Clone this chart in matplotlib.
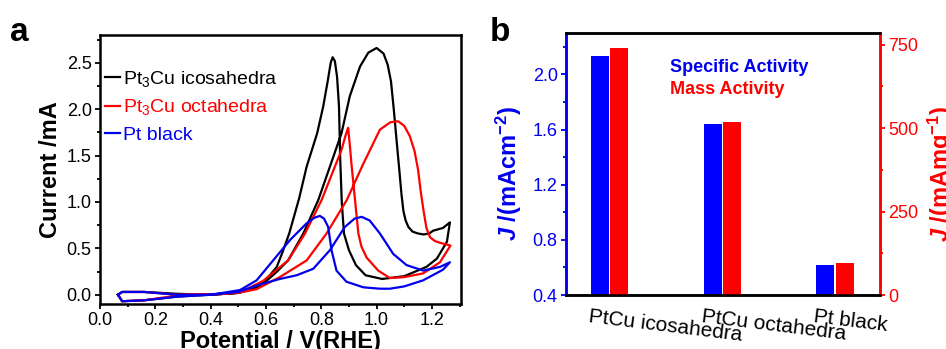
import matplotlib
matplotlib.use("Agg")
import matplotlib.pyplot as plt
import numpy as np
from matplotlib.ticker import MultipleLocator
from matplotlib.transforms import ScaledTranslation

plt.rcParams["font.family"] = ["Liberation Sans", "DejaVu Sans"]
plt.rcParams["mathtext.fontset"] = "custom"
plt.rcParams["mathtext.it"] = "Liberation Sans:italic:bold"
plt.rcParams["mathtext.rm"] = "Liberation Sans:bold"
plt.rcParams["mathtext.default"] = "regular"

# ---- panel a: cyclic voltammograms (forward + reverse scans)
ico_fwd_v = [0.065, 0.08, 0.16, 0.28, 0.40, 0.50, 0.56, 0.602, 0.64, 0.68, 0.735, 0.789, 0.831,
             0.873, 0.903, 0.94, 0.97, 1.0, 1.025, 1.04, 1.052, 1.062, 1.072, 1.082, 1.09, 1.097,
             1.105, 1.115, 1.13, 1.15, 1.17, 1.19, 1.204, 1.24, 1.265]
ico_fwd_i = [0.0, 0.03, 0.03, 0.01, 0.0, 0.02, 0.07, 0.15, 0.25, 0.37, 0.66, 1.02, 1.38,
             1.74, 2.14, 2.46, 2.61, 2.66, 2.60, 2.48, 2.30, 2.00, 1.67, 1.345, 1.08, 0.90,
             0.80, 0.73, 0.68, 0.66, 0.65, 0.66, 0.69, 0.72, 0.78]
ico_rev_v = [1.265, 1.254, 1.218, 1.18, 1.10, 1.02, 0.96, 0.925, 0.90, 0.882, 0.874, 0.868,
             0.864, 0.857, 0.849, 0.841, 0.834, 0.823, 0.807, 0.785, 0.747, 0.72, 0.684, 0.66,
             0.639, 0.60, 0.566, 0.50, 0.40, 0.28, 0.16, 0.08, 0.065]
ico_rev_i = [0.78, 0.57, 0.39, 0.30, 0.20, 0.17, 0.21, 0.32, 0.48, 0.66, 1.0, 1.5,
             2.03, 2.35, 2.52, 2.56, 2.50, 2.30, 2.03, 1.74, 1.38, 1.04, 0.66, 0.46,
             0.30, 0.16, 0.08, 0.02, 0.0, -0.02, -0.06, -0.07, 0.0]

oct_fwd_v = [0.065, 0.08, 0.16, 0.28, 0.40, 0.50, 0.566, 0.65, 0.747, 0.819, 0.892, 0.95,
             1.012, 1.05, 1.078, 1.10, 1.12, 1.137, 1.15, 1.16, 1.17, 1.18, 1.193, 1.21,
             1.229, 1.267]
oct_fwd_i = [0.0, 0.03, 0.03, 0.0, 0.0, 0.02, 0.06, 0.19, 0.37, 0.66, 1.02, 1.40,
             1.78, 1.86, 1.87, 1.82, 1.71, 1.55, 1.345, 1.10, 0.90, 0.72, 0.62, 0.58,
             0.56, 0.53]
oct_rev_v = [1.267, 1.229, 1.168, 1.10, 1.048, 1.006, 0.964, 0.945, 0.934, 0.922, 0.91, 0.902,
             0.897, 0.888, 0.873, 0.849, 0.801, 0.741, 0.68, 0.59, 0.53, 0.45, 0.30, 0.16,
             0.08, 0.065]
oct_rev_i = [0.53, 0.35, 0.23, 0.19, 0.18, 0.26, 0.40, 0.52, 0.66, 1.02, 1.38, 1.65,
             1.80, 1.72, 1.56, 1.38, 1.02, 0.66, 0.37, 0.15, 0.06, 0.01, 0.0, -0.06,
             -0.07, 0.0]

blk_fwd_v = [0.065, 0.08, 0.16, 0.28, 0.40, 0.50, 0.566, 0.65, 0.711, 0.771, 0.831, 0.885,
             0.92, 0.946, 0.975, 1.012, 1.06, 1.108, 1.168, 1.229, 1.265]
blk_fwd_i = [0.0, 0.03, 0.03, 0.0, 0.0, 0.03, 0.10, 0.17, 0.21, 0.28, 0.48, 0.73,
             0.82, 0.84, 0.80, 0.66, 0.44, 0.32, 0.26, 0.30, 0.35]
blk_rev_v = [1.265, 1.24, 1.168, 1.10, 1.048, 1.012, 0.952, 0.891, 0.855, 0.837, 0.825, 0.81,
             0.795, 0.775, 0.747, 0.687, 0.626, 0.566, 0.506, 0.40, 0.28, 0.16, 0.08, 0.065]
blk_rev_i = [0.35, 0.27, 0.155, 0.09, 0.065, 0.065, 0.08, 0.14, 0.26, 0.48, 0.73, 0.82,
             0.85, 0.83, 0.77, 0.59, 0.37, 0.155, 0.05, 0.0, -0.02, -0.06, -0.07, 0.0]

cv_labels = ["Pt$_3$Cu icosahedra", "Pt$_3$Cu octahedra", "Pt black"]
cv_colors = ["black", "#ff0000", "#0000ee"]

# ---- panel b: activities
catalysts = ["PtCu icosahedra", "PtCu octahedra", "Pt black"]
specific_activity = [2.13, 1.64, 0.62]   # mA cm^-2
mass_activity = [739, 517, 95]           # mA mg^-1

fig = plt.figure(figsize=(9.46, 3.49), dpi=100)

ax1 = fig.add_axes([0.1057, 0.1289, 0.3816, 0.7708])
curves = [(ico_fwd_v + ico_rev_v, ico_fwd_i + ico_rev_i),
          (oct_fwd_v + oct_rev_v, oct_fwd_i + oct_rev_i),
          (blk_fwd_v + blk_rev_v, blk_fwd_i + blk_rev_i)]
handles = []
for (v, i), lab, col in zip(curves, cv_labels, cv_colors):
    h, = ax1.plot(v, i, color=col, lw=1.6, label=lab, solid_joinstyle="round")
    handles.append(h)

ax1.set_xlim(0.0, 1.305)
ax1.set_ylim(-0.1, 2.8)
ax1.xaxis.set_major_locator(MultipleLocator(0.2))
ax1.xaxis.set_minor_locator(MultipleLocator(0.1))
ax1.yaxis.set_major_locator(MultipleLocator(0.5))
ax1.yaxis.set_minor_locator(MultipleLocator(0.25))
ax1.tick_params(which="both", direction="out", top=False, right=False, labelsize=13, width=1.3,
                pad=2.5)
ax1.tick_params(which="major", length=3.5)
ax1.tick_params(which="minor", length=2)
ax1.xaxis.set_major_formatter(plt.FuncFormatter(lambda x, p: f"{x:.1f}"))
ax1.yaxis.set_major_formatter(plt.FuncFormatter(lambda x, p: f"{x:.1f}"))
for s in ax1.spines.values():
    s.set_linewidth(1.8)
ax1.set_xlabel("Potential / V(RHE)", fontsize=17, fontweight="bold")
ax1.xaxis.set_label_coords(0.5, -0.095)
ax1.set_ylabel("Current /mA", fontsize=17, fontweight="bold")
ax1.yaxis.set_label_coords(-0.105, 0.5)
ax1.legend(handles=handles, loc="upper left", bbox_to_anchor=(0.015, 0.875), frameon=False,
           fontsize=14, handlelength=0.75, handletextpad=0.15, labelspacing=0.45,
           borderpad=0, borderaxespad=0, labelcolor="linecolor")

# ---- panel b
ax2 = fig.add_axes([0.5983, 0.1547, 0.3319, 0.7507])
ax3 = ax2.twinx()
x = np.arange(1, len(catalysts) + 1)
w = 0.16
ax2.bar(x - 0.085, specific_activity, width=w, color="#0000ff")
ax3.bar(x + 0.085, mass_activity, width=w, color="#ff0000")
ax2.set_xlim(0.61, 3.4)
ax2.set_ylim(0.4, 2.3)
ax3.set_ylim(0, 785)
ax2.yaxis.set_major_locator(MultipleLocator(0.4))
ax2.yaxis.set_minor_locator(MultipleLocator(0.2))
ax3.yaxis.set_major_locator(MultipleLocator(250))
ax3.yaxis.set_minor_locator(MultipleLocator(125))
ax2.yaxis.set_major_formatter(plt.FuncFormatter(lambda x, p: f"{x:.1f}"))
blue, red = "#0000ee", "#ff0000"
ax2.tick_params(axis="y", which="both", colors=blue, labelsize=13, width=1.3, direction="out",
                pad=2.5)
ax2.tick_params(axis="y", which="major", length=3.5)
ax2.tick_params(axis="y", which="minor", length=2)
ax3.tick_params(axis="y", which="both", colors=red, labelsize=13, width=1.3, direction="out",
                pad=2.5)
ax3.tick_params(axis="y", which="major", length=3.5)
ax3.tick_params(axis="y", which="minor", length=2)
ax2.set_xticks(x)
ax2.set_xticklabels(catalysts, rotation=-7, ha="left", rotation_mode="anchor", fontsize=15)
ax2.tick_params(axis="x", length=0, pad=9)
shift = ScaledTranslation(-0.2, 0, fig.dpi_scale_trans)
for lab in ax2.get_xticklabels():
    lab.set_transform(lab.get_transform() + shift)
for ax in (ax2, ax3):
    for s in ax.spines.values():
        s.set_linewidth(1.8)
    ax.spines["left"].set_color(blue)
    ax.spines["right"].set_color(red)
ax2.set_ylabel(r"$\mathit{J}$ /(mAcm$^{-2}$)", color=blue, fontsize=17, fontweight="bold")
ax2.yaxis.set_label_coords(-0.134, 0.462)
ax3.set_ylabel(r"$\mathit{J}$ /(mAmg$^{-1}$)", color=red, fontsize=17, fontweight="bold",
               rotation=90)
ax3.yaxis.set_label_coords(1.146, 0.462)
ax2.text(0.331, 0.87, "Specific Activity", color=blue, fontsize=13, fontweight="bold",
         transform=ax2.transAxes, va="center")
ax2.text(0.331, 0.786, "Mass Activity", color=red, fontsize=13, fontweight="bold",
         transform=ax2.transAxes, va="center")

fig.text(0.011, 0.8825, "a", fontsize=24, fontweight="bold", va="baseline")
fig.text(0.518, 0.8825, "b", fontsize=24, fontweight="bold", va="baseline")

fig.savefig("out.png", dpi=100)
